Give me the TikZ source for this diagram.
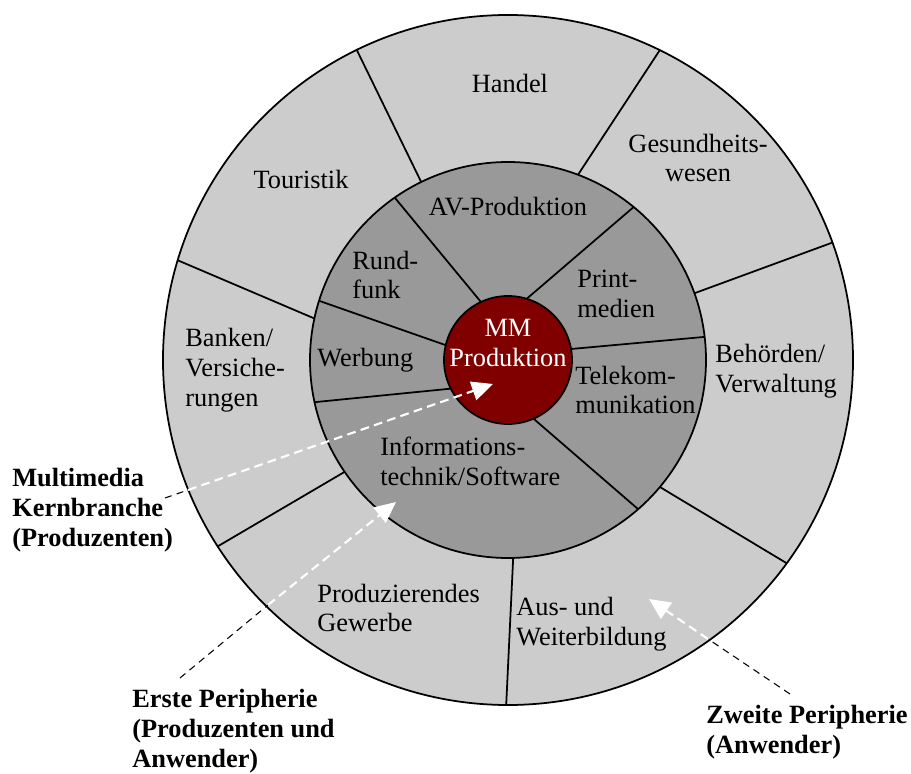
\documentclass[tikz,border=0pt]{standalone}
\usepackage{fontspec}
\setmainfont{Liberation Serif}
\usetikzlibrary{arrows.meta}
\definecolor{ringaussen}{RGB}{204,204,204}
\definecolor{ringmitte}{RGB}{153,153,153}
\definecolor{kernrot}{RGB}{128,0,0}
\tikzset{
  sektor/.style={font=\fontsize{15}{17}\selectfont, align=left, inner sep=0pt},
  titel/.style={font=\fontsize{15}{17}\selectfont\bfseries, align=left, inner sep=0pt},
  teiler/.style={line width=1pt},
  zeiger/.style={dash pattern=on 4pt off 3pt, line width=0.6pt},
  weisszeiger/.style={white, dash pattern=on 5pt off 3pt, line width=1.2pt,
    -{Triangle[length=12pt,width=11pt,fill=white]}},
}
\begin{document}
\begin{tikzpicture}[x=0.02cm, y=0.02cm]
    \useasboundingbox (-508,-413) rectangle (403,360);

    % Ringe
    \draw[fill=ringaussen, line width=1pt] (0,0) circle[radius=345];
    \draw[fill=ringmitte, line width=1pt] (0,0) circle[radius=198];

    % Trennlinien im aeusseren Ring
    \foreach \a/\b in {116/116, 69.3/63.9, 19.7/19.9, -39.9/-36.1, -88.5/-90.3, 214.4/212.7, 167.9/163.2}
        \draw[teiler] (\a:198) -- (\b:345);

    % Trennlinien im mittleren Ring
    \foreach \a/\b in {115/124.9, 73/50.6, 9.9/6.7, -66.5/-48.9, 206.6/192.3, 166.6/162.6}
        \draw[teiler] (\a:64) -- (\b:198);

    % Kern
    \draw[fill=kernrot, line width=1pt] (0,0) circle[radius=64];

    % Zweite Peripherie
    \node[sektor] (handel) at (2,277) {Handel};
    \node[sektor] (touristik) at (-207,181) {Touristik};
    \node[sektor, align=center] (gesundheit) at (190,202) {Gesundheits-\\wesen};
    \node[sektor, anchor=west] (behoerden) at (207,-11) {Behörden/\\Verwaltung};
    \node[sektor, anchor=west] (bildung) at (8,-264) {Aus- und\\Weiterbildung};
    \node[sektor, anchor=west] (gewerbe) at (-191,-248) {Produzierendes\\Gewerbe};
    \node[sektor, anchor=west] (banken) at (-323,-10) {Banken/\\Versiche-\\rungen};

    % Erste Peripherie
    \node[sektor] (av) at (0,153) {AV-Produktion};
    \node[sektor, anchor=west] (rundfunk) at (-156,85) {Rund-\\funk};
    \node[sektor, anchor=west] (print) at (69,66) {Print-\\medien};
    \node[sektor, anchor=west] (werbung) at (-191,0) {Werbung};
    \node[sektor, anchor=west] (telekom) at (67,-30) {Telekom-\\munikation};
    \node[sektor, anchor=west] (it) at (-128,-101) {Informations-\\technik/Software};

    % Kernbranche
    \node[sektor, align=center, text=white] (mm) at (0,17) {MM\\Produktion};

    % Legende
    \node[titel, anchor=west] (kernbranche) at (-496,-150) {Multimedia\\Kernbranche\\(Produzenten)};
    \node[titel, anchor=west] (erste) at (-376,-371) {Erste Peripherie\\(Produzenten und\\Anwender)};
    \node[titel, anchor=west] (zweite) at (198,-372) {Zweite Peripherie\\(Anwender)};

    % Zeiger
    \coordinate (k1) at (-343,-138);
    \coordinate (k2) at (-320,-130);
    \coordinate (k3) at (-15,-24);
    \coordinate (e1) at (-328,-318);
    \coordinate (e2) at (-240,-245);
    \coordinate (e3) at (-112,-142);
    \coordinate (z1) at (282,-334);
    \coordinate (z2) at (200,-279);
    \coordinate (z3) at (141,-239);
    \draw[zeiger] (k1) -- (k2);
    \draw[weisszeiger] (k2) -- (k3);
    \draw[zeiger] (e1) -- (e2);
    \draw[weisszeiger] (e2) -- (e3);
    \draw[zeiger] (z1) -- (z2);
    \draw[weisszeiger] (z2) -- (z3);
\end{tikzpicture}
\end{document}
